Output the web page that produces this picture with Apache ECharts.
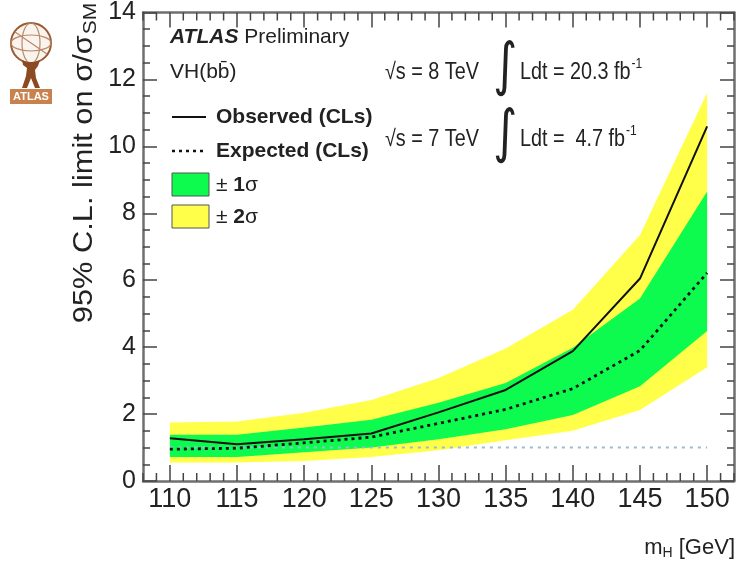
<!DOCTYPE html>
<html>
<head>
<meta charset="utf-8">
<script src="https://cdn.jsdelivr.net/npm/echarts@6/dist/echarts.min.js"></script>
<style>
  html, body { margin: 0; padding: 0; background: #fff; }
  #chart { width: 739px; height: 571px; }
</style>
</head>
<body>
<div id="chart"></div>
<script>
// Higgs mass hypotheses [GeV]
const mass = [110, 115, 120, 125, 130, 135, 140, 145, 150];
// 95% CL limits on sigma/sigma_SM
const observed = [1.28, 1.10, 1.25, 1.42, 2.05, 2.72, 3.88, 6.05, 10.6];
const expected = [0.95, 0.98, 1.14, 1.31, 1.72, 2.14, 2.76, 3.90, 6.22];
const band1Lo = [0.72, 0.72, 0.86, 1.00, 1.25, 1.55, 1.97, 2.83, 4.48];
const band1Hi = [1.38, 1.38, 1.60, 1.83, 2.34, 2.93, 3.98, 5.45, 8.65];
const band2Lo = [0.55, 0.55, 0.60, 0.72, 0.92, 1.22, 1.50, 2.12, 3.40];
const band2Hi = [1.75, 1.78, 2.04, 2.42, 3.08, 3.96, 5.12, 7.35, 11.6];
const smLine = [1, 1, 1, 1, 1, 1, 1, 1, 1];
const xTickLabels = [110, 115, 120, 125, 130, 135, 140, 145, 150];
const xMinorTicks = [108, 109, 111, 112, 113, 114, 116, 117, 118, 119, 121, 122, 123, 124,
  126, 127, 128, 129, 131, 132, 133, 134, 136, 137, 138, 139, 141, 142, 143, 144,
  146, 147, 148, 149, 151, 152];
const X_MIN = 108, X_MAX = 152, Y_MIN = 0, Y_MAX = 14;

const FONT = 'Liberation Sans, Arial, Helvetica, sans-serif';
const GREEN = '#0dfa4f';
const YELLOW = '#ffff4a';
const FRAME = '#6f6f6f';
const TICK = '#444';

const pairs = (ys) => mass.map((m, i) => [m, ys[i]]);

// filled region between a lower and an upper limit curve
function bandSeries(lo, hi, color) {
  return {
    type: 'custom',
    silent: true,
    data: [0],
    renderItem: function (params, api) {
      const pts = [];
      for (let i = 0; i < mass.length; i++) pts.push(api.coord([mass[i], hi[i]]));
      for (let i = mass.length - 1; i >= 0; i--) pts.push(api.coord([mass[i], lo[i]]));
      return { type: 'polygon', shape: { points: pts }, style: { fill: color } };
    }
  };
}

// short inward ticks on the bottom and top frame edges
function minorTickSeries(values, len) {
  return {
    type: 'custom',
    silent: true,
    clip: false,
    z: 5,
    data: values.map(v => [v]),
    renderItem: function (params, api) {
      const v = api.value(0);
      const b = api.coord([v, Y_MIN]);
      const t = api.coord([v, Y_MAX]);
      const st = { stroke: TICK, lineWidth: 1.5 };
      return { type: 'group', children: [
        { type: 'line', shape: { x1: b[0], y1: b[1], x2: b[0], y2: b[1] - len }, style: st },
        { type: 'line', shape: { x1: t[0], y1: t[1], x2: t[0], y2: t[1] + len }, style: st }
      ] };
    }
  };
}

const chart = echarts.init(document.getElementById('chart'), null, { renderer: 'canvas' });

const xBase = { type: 'value', min: X_MIN, max: X_MAX, splitLine: { show: false } };
const yBase = { type: 'value', min: Y_MIN, max: Y_MAX, interval: 2, splitLine: { show: false } };

function xAxisDef(position, len, withLabels) {
  return Object.assign({}, xBase, {
    position: position,
    axisLine: { show: true, onZero: false, lineStyle: { color: FRAME, width: 2.5 } },
    axisTick: { show: true, inside: true, length: len, customValues: xTickLabels, lineStyle: { color: TICK, width: 1.5 } },
    axisLabel: withLabels
      ? { show: true, customValues: xTickLabels, fontSize: 27, color: '#222', fontFamily: FONT, margin: 5 }
      : { show: false }
  });
}

function yAxisDef(position, withLabels) {
  return Object.assign({}, yBase, {
    position: position,
    axisLine: { show: true, onZero: false, lineStyle: { color: FRAME, width: 2.5 } },
    axisTick: { show: true, inside: true, length: 14, lineStyle: { color: TICK, width: 1.5 } },
    minorTick: { show: true, splitNumber: 4, length: 7, lineStyle: { color: TICK, width: 1.5 } },
    axisLabel: withLabels
      ? { fontSize: 25, color: '#222', fontFamily: FONT, margin: 7 }
      : { show: false }
  });
}

// condensed label text used for the luminosity lines
function lumiText(x, y, text) {
  return { type: 'text', x: x, y: y, scaleX: 0.86,
    style: { text: text, fontSize: 23, fontFamily: FONT, fill: '#222', verticalAlign: 'middle',
      rich: { sup: { fontSize: 14, fontFamily: FONT, fill: '#222', padding: [0, 0, 18, 1] } } } };
}

chart.setOption({
  animation: false,
  backgroundColor: '#fff',
  grid: { left: 143, right: 5, top: 6, bottom: 90, containLabel: false },
  xAxis: [xAxisDef('bottom', 16, true), xAxisDef('top', 15, false)],
  yAxis: [yAxisDef('left', true), yAxisDef('right', false)],
  series: [
    bandSeries(band2Lo, band2Hi, YELLOW),
    bandSeries(band1Lo, band1Hi, GREEN),
    { type: 'line', data: pairs(smLine), symbol: 'none',
      lineStyle: { color: '#98bcd8', width: 2, type: [3, 5] } },
    { type: 'line', data: pairs(expected), symbol: 'none',
      lineStyle: { color: '#111', width: 2.8, type: [3, 4] } },
    { type: 'line', data: pairs(observed), symbol: 'none',
      lineStyle: { color: '#111', width: 2 } },
    minorTickSeries(xMinorTicks, 8)
  ],
  graphic: [
    // y-axis title
    { type: 'text', x: 84, y: 163, rotation: Math.PI / 2, scaleX: 1.1,
      style: { text: '95% C.L. limit on σ/σ{sub|SM}', fontSize: 28, fontFamily: FONT, fill: '#222',
        align: 'center', verticalAlign: 'middle',
        rich: { sub: { fontSize: 19, fontFamily: FONT, fill: '#222', padding: [14, 0, 0, 1] } } } },
    // x-axis title
    { type: 'text', x: 735, y: 548,
      style: { text: 'm{sub|H} [GeV]', fontSize: 22, fontFamily: FONT, fill: '#222',
        align: 'right', verticalAlign: 'middle',
        rich: { sub: { fontSize: 14, fontFamily: FONT, fill: '#222', padding: [10, 0, 0, 0] } } } },
    // experiment label
    { type: 'text', x: 170, y: 37,
      style: { text: '{b|ATLAS} Preliminary', fontSize: 21, fontFamily: FONT, fill: '#222', verticalAlign: 'middle',
        rich: { b: { fontSize: 21, fontWeight: 'bold', fontStyle: 'italic', fontFamily: FONT, fill: '#222' } } } },
    { type: 'text', x: 170, y: 72,
      style: { text: 'VH(bb\u0304)', fontSize: 21, fontFamily: FONT, fill: '#222', verticalAlign: 'middle' } },
    // legend
    { type: 'line', shape: { x1: 172, y1: 117, x2: 206, y2: 117 }, style: { stroke: '#111', lineWidth: 2 } },
    { type: 'text', x: 216, y: 117,
      style: { text: 'Observed (CLs)', fontSize: 21, fontWeight: 'bold', fontFamily: FONT, fill: '#222', verticalAlign: 'middle' } },
    { type: 'line', shape: { x1: 172, y1: 151, x2: 206, y2: 151 }, style: { stroke: '#111', lineWidth: 2.6, lineDash: [3, 4] } },
    { type: 'text', x: 216, y: 151,
      style: { text: 'Expected (CLs)', fontSize: 21, fontWeight: 'bold', fontFamily: FONT, fill: '#222', verticalAlign: 'middle' } },
    { type: 'rect', shape: { x: 172, y: 173, width: 37, height: 23 }, style: { fill: GREEN, stroke: '#555', lineWidth: 1 } },
    { type: 'text', x: 216, y: 185,
      style: { text: '± {b|1}σ', fontSize: 21, fontFamily: FONT, fill: '#222', verticalAlign: 'middle',
        rich: { b: { fontSize: 21, fontWeight: 'bold', fontFamily: FONT, fill: '#222' } } } },
    { type: 'rect', shape: { x: 172, y: 205, width: 37, height: 23 }, style: { fill: YELLOW, stroke: '#555', lineWidth: 1 } },
    { type: 'text', x: 216, y: 217,
      style: { text: '± {b|2}σ', fontSize: 21, fontFamily: FONT, fill: '#222', verticalAlign: 'middle',
        rich: { b: { fontSize: 21, fontWeight: 'bold', fontFamily: FONT, fill: '#222' } } } },
    // luminosity labels
    lumiText(385, 73, '√s = 8 TeV'),
    { type: 'text', x: 493, y: 69, scaleX: 0.8,
      style: { text: '∫', fontSize: 58, fontFamily: 'DejaVu Sans', fill: '#222', verticalAlign: 'middle' } },
    lumiText(520, 73, 'Ldt = 20.3 fb{sup|-1}'),
    lumiText(385, 140, '√s = 7 TeV'),
    { type: 'text', x: 493, y: 136, scaleX: 0.8,
      style: { text: '∫', fontSize: 58, fontFamily: 'DejaVu Sans', fill: '#222', verticalAlign: 'middle' } },
    lumiText(520, 140, 'Ldt =  4.7 fb{sup|-1}'),
    // ATLAS emblem
    { type: 'group', children: [
      { type: 'circle', shape: { cx: 31, cy: 43, r: 20 }, style: { fill: '#fbf4ee', stroke: '#9a5a34', lineWidth: 2 } },
      { type: 'ellipse', shape: { cx: 31, cy: 43, rx: 9, ry: 20 }, style: { fill: 'none', stroke: '#b88a6a', lineWidth: 1.2 } },
      { type: 'ellipse', shape: { cx: 31, cy: 43, rx: 20, ry: 8 }, style: { fill: 'none', stroke: '#b88a6a', lineWidth: 1.2 } },
      { type: 'line', shape: { x1: 15, y1: 32, x2: 47, y2: 54 }, style: { stroke: '#b88a6a', lineWidth: 1.2 } },
      { type: 'polygon', shape: { points: [[22, 60], [27, 62], [34, 62], [40, 60], [38, 66], [35, 70], [36, 78], [40, 88], [35, 88], [31, 78], [27, 88], [22, 88], [26, 76], [27, 68], [23, 65]] },
        style: { fill: '#8c4a22' } },
      { type: 'rect', shape: { x: 10, y: 89, width: 42, height: 15 }, style: { fill: '#c9824e' } },
      { type: 'text', x: 31, y: 97, style: { text: 'ATLAS', fontSize: 11, fontWeight: 'bold', fontFamily: FONT, fill: '#fff', align: 'center', verticalAlign: 'middle' } }
    ] }
  ]
});
</script>
</body>
</html>
